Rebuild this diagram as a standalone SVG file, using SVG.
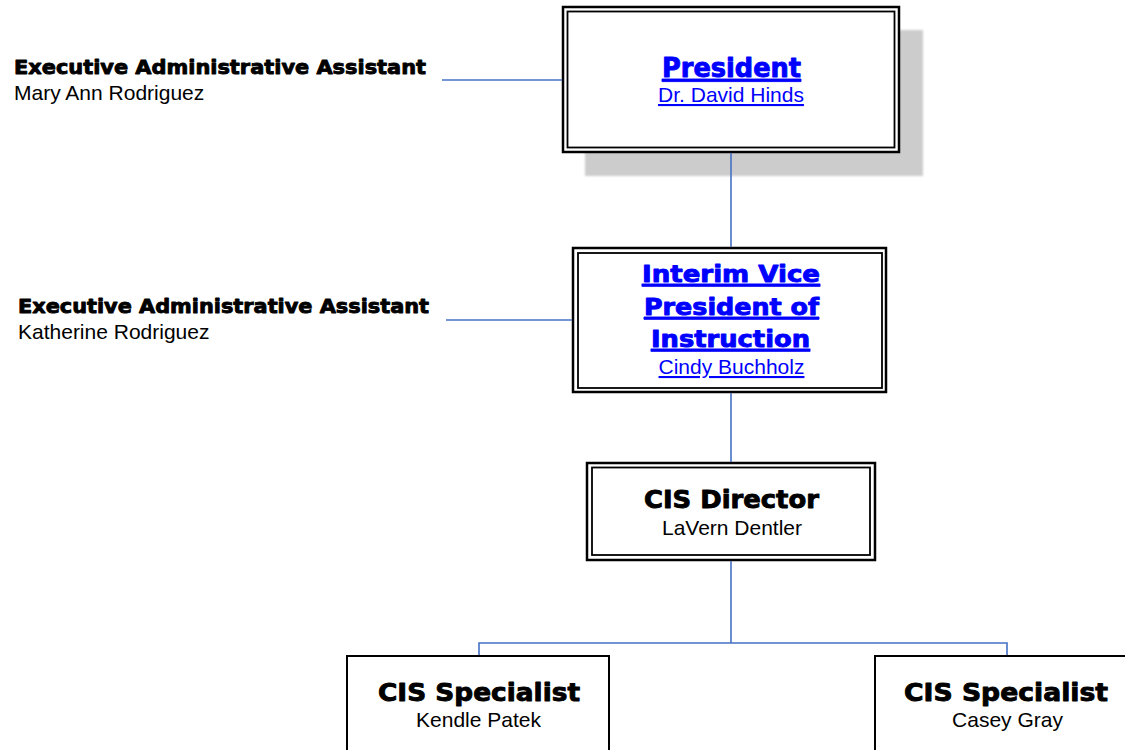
<svg xmlns="http://www.w3.org/2000/svg" width="1125" height="750" viewBox="0 0 1125 750">
<style>
.bg{fill:#ffffff}
.outer{fill:#ffffff;stroke:#000000;stroke-width:2.5}
.inner{fill:none;stroke:#000000;stroke-width:1.8}
.single{fill:#ffffff;stroke:#000000;stroke-width:2}
.shadow{fill:#cccccc}
.conn{fill:none;stroke:#4472c4;stroke-width:1.6}
.title{font-family:"DejaVu Sans","Liberation Sans",sans-serif;font-weight:bold;stroke-width:0.9;stroke-linejoin:round}
.tblack{fill:#000000;stroke:#000000}
.tlink{fill:#0000ff;stroke:#0000ff;text-decoration:underline}
.name{font-family:"Liberation Sans",Arial,sans-serif;font-size:21px;fill:#000000}
.nlink{fill:#0000ff;text-decoration:underline}
</style>
<defs>
<filter id="soft" x="-5%" y="-5%" width="110%" height="110%"><feGaussianBlur stdDeviation="1"/></filter>
</defs>
<rect class="bg" x="0" y="0" width="1125" height="750"/>
<g id="assistant1">
<text class="title tblack" x="14" y="74" font-size="20" textLength="412" lengthAdjust="spacingAndGlyphs">Executive Administrative Assistant</text>
<text class="name" x="14" y="100">Mary Ann Rodriguez</text>
</g>
<g id="assistant2">
<text class="title tblack" x="18" y="313" font-size="20" textLength="411" lengthAdjust="spacingAndGlyphs">Executive Administrative Assistant</text>
<text class="name" x="18" y="339">Katherine Rodriguez</text>
</g>
<g id="president">
<rect class="shadow" x="585" y="30" width="338" height="146" filter="url(#soft)"/>
<rect class="outer" x="563" y="7" width="336" height="145"/>
<rect class="inner" x="567.5" y="11.5" width="327" height="136"/>
<text class="title tlink" x="662" y="77" font-size="26" textLength="139" lengthAdjust="spacingAndGlyphs">President</text>
<text class="name nlink" x="731" y="102" text-anchor="middle">Dr. David Hinds</text>
</g>
<g id="vp">
<rect class="outer" x="573" y="248" width="313" height="144"/>
<rect class="inner" x="578" y="253" width="304" height="135"/>
<text class="title tlink" x="642" y="282" font-size="23" textLength="178" lengthAdjust="spacingAndGlyphs">Interim Vice</text>
<text class="title tlink" x="644" y="315" font-size="23" textLength="175" lengthAdjust="spacingAndGlyphs">President of</text>
<text class="title tlink" x="651" y="347" font-size="23" textLength="159" lengthAdjust="spacingAndGlyphs">Instruction</text>
<text class="name nlink" x="731.5" y="374" text-anchor="middle">Cindy Buchholz</text>
</g>
<g id="director">
<rect class="outer" x="587" y="463" width="288" height="97"/>
<rect class="inner" x="592" y="467.5" width="278" height="87.5"/>
<text class="title tblack" x="644" y="508" font-size="25" textLength="175" lengthAdjust="spacingAndGlyphs">CIS Director</text>
<text class="name" x="732" y="535" text-anchor="middle">LaVern Dentler</text>
</g>
<g id="specialist1">
<rect class="single" x="347" y="656" width="262" height="110"/>
<text class="title tblack" x="378" y="701" font-size="25" textLength="202" lengthAdjust="spacingAndGlyphs">CIS Specialist</text>
<text class="name" x="478.5" y="727" text-anchor="middle">Kendle Patek</text>
</g>
<g id="specialist2">
<rect class="single" x="875" y="656" width="270" height="110"/>
<text class="title tblack" x="904" y="701" font-size="25" textLength="204" lengthAdjust="spacingAndGlyphs">CIS Specialist</text>
<text class="name" x="1007.5" y="727" text-anchor="middle">Casey Gray</text>
</g>
<g id="connectors">
<line class="conn" x1="442" y1="80" x2="562" y2="80"/>
<line class="conn" x1="731" y1="153" x2="731" y2="247"/>
<line class="conn" x1="446" y1="320" x2="572" y2="320"/>
<line class="conn" x1="731" y1="393" x2="731" y2="462"/>
<polyline class="conn" points="731,561 731,643"/>
<polyline class="conn" points="479,655 479,643 1007,643 1007,655"/>
</g>
</svg>
